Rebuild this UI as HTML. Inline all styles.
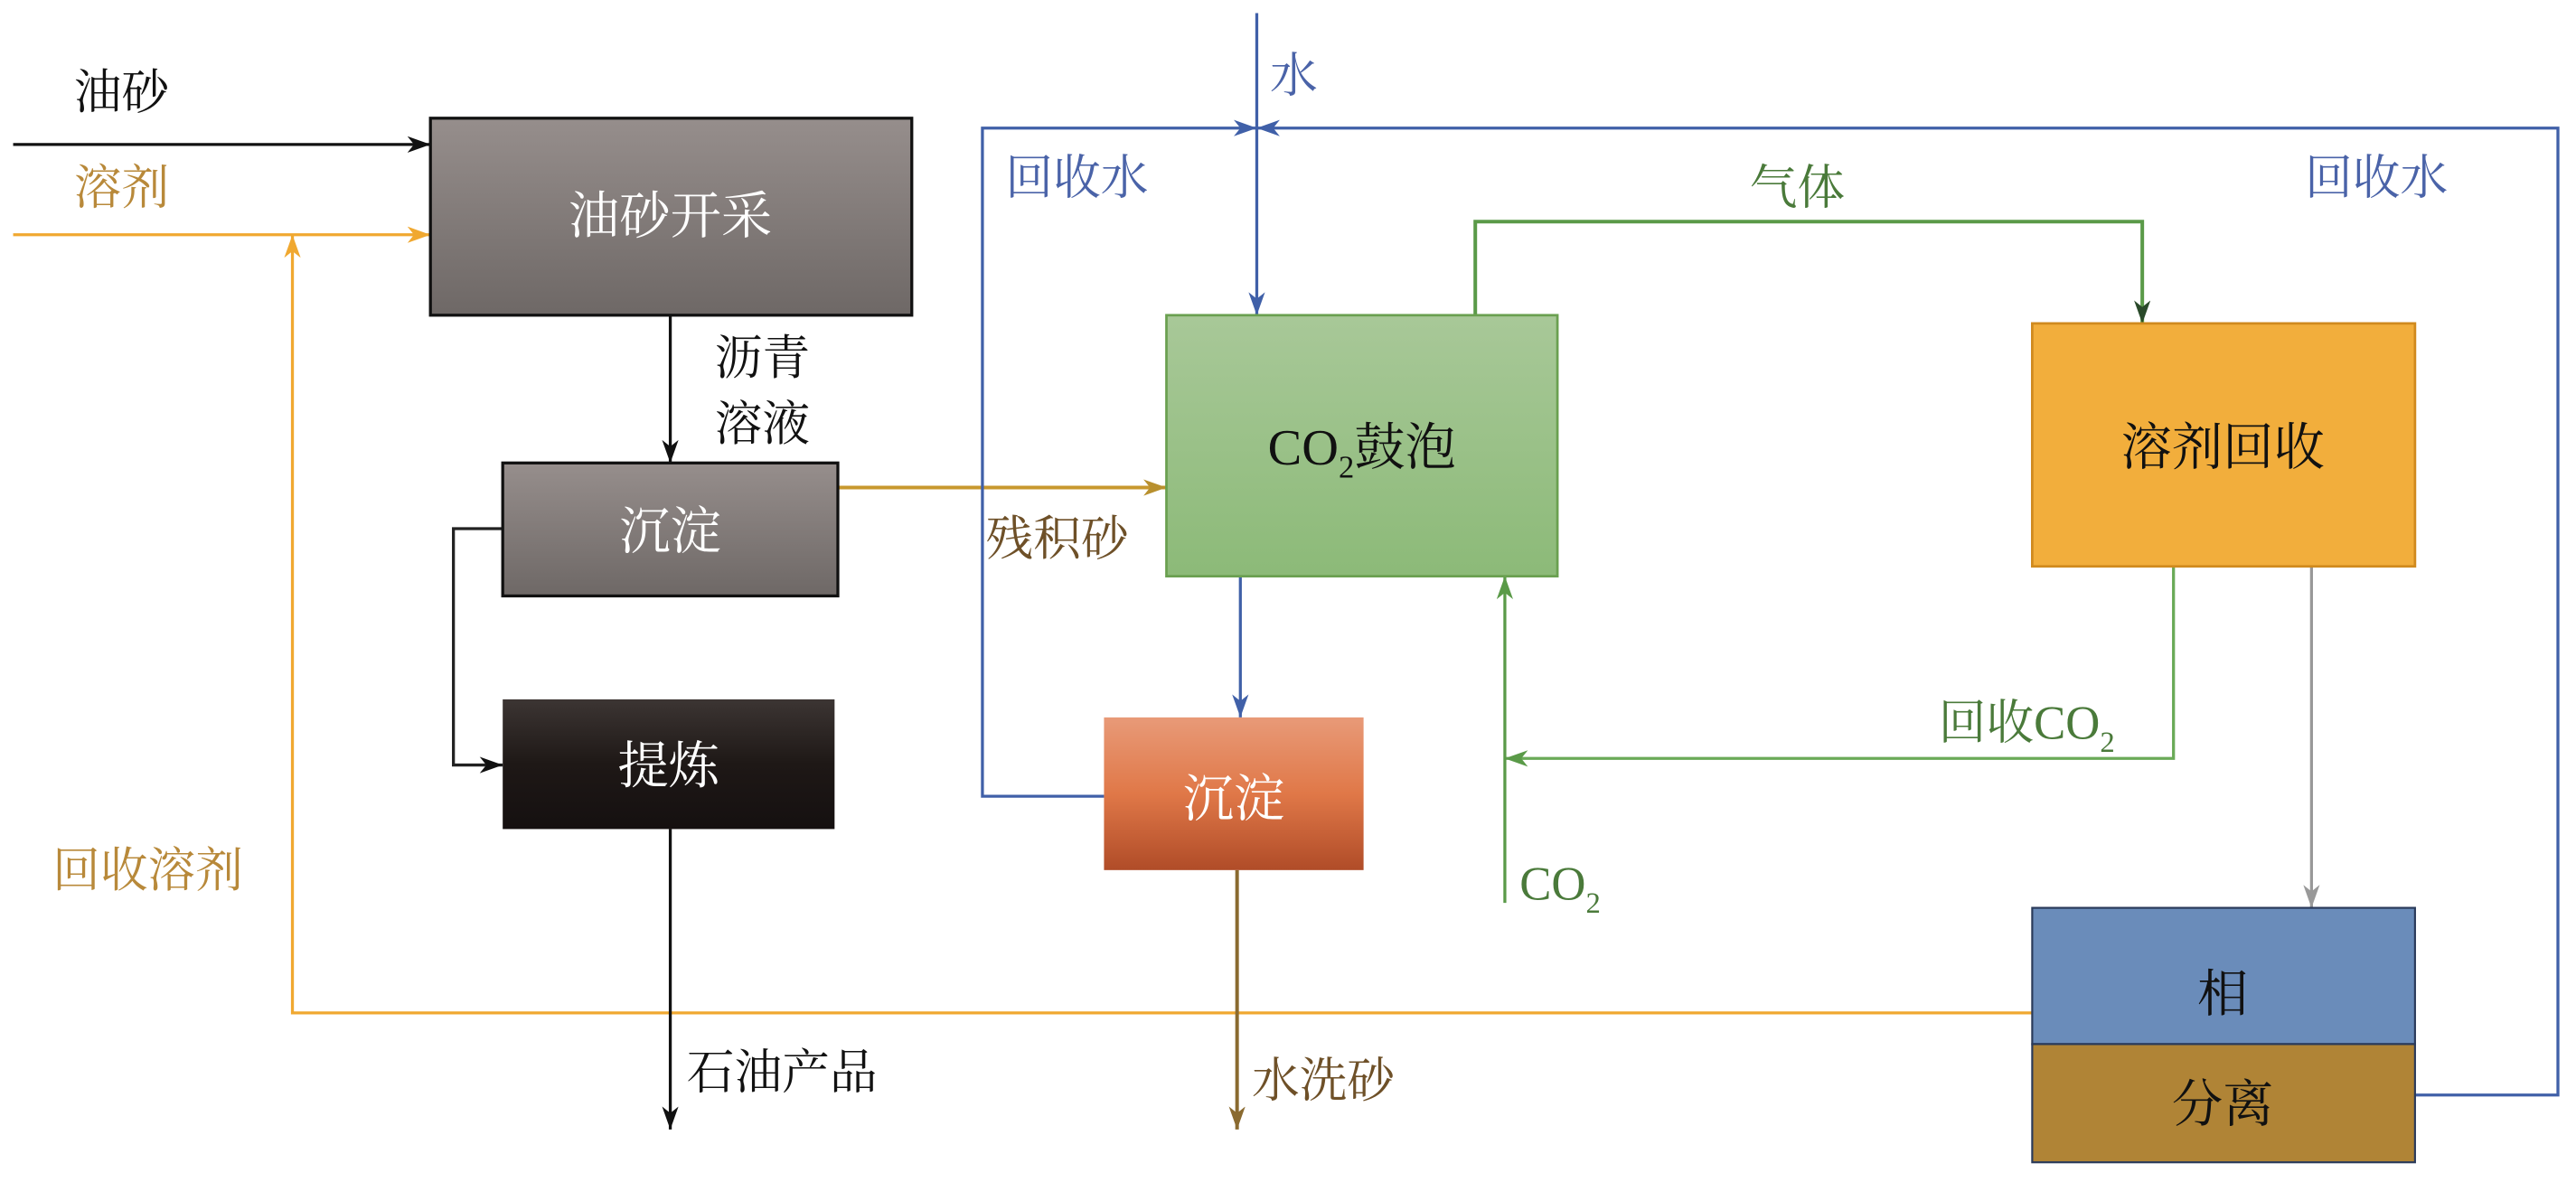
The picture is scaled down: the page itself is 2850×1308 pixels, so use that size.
<!DOCTYPE html>
<html><head><meta charset="utf-8"><style>html,body{margin:0;padding:0;background:#fff}svg{display:block}
text{font-family:"Liberation Serif","Noto Serif CJK SC","Noto Sans CJK SC",serif;}</style></head>
<body>
<svg width="2850" height="1308" viewBox="0 0 1568 720" preserveAspectRatio="none" xmlns="http://www.w3.org/2000/svg">
<defs>
<linearGradient id="g1" x1="0" y1="0" x2="0" y2="1"><stop offset="0" stop-color="#968e8c"/><stop offset="1" stop-color="#6e6866"/></linearGradient>
<linearGradient id="g2" x1="0" y1="0" x2="0" y2="1"><stop offset="0" stop-color="#3c3533"/><stop offset="0.5" stop-color="#1e1816"/><stop offset="1" stop-color="#151010"/></linearGradient>
<linearGradient id="g3" x1="0" y1="0" x2="0" y2="1"><stop offset="0" stop-color="#a8c898"/><stop offset="1" stop-color="#8cba78"/></linearGradient>
<linearGradient id="g4" x1="0" y1="0" x2="0" y2="1"><stop offset="0" stop-color="#e89a78"/><stop offset="0.5" stop-color="#e07848"/><stop offset="1" stop-color="#b04c28"/></linearGradient>
<marker id="ak" markerWidth="14" markerHeight="10" refX="14" refY="5" orient="auto" markerUnits="userSpaceOnUse"><path d="M0,0 L14,5 L0,10 L4,5z" fill="#111"/></marker>
<marker id="ao" markerWidth="14" markerHeight="10" refX="14" refY="5" orient="auto" markerUnits="userSpaceOnUse"><path d="M0,0 L14,5 L0,10 L4,5z" fill="#f0a830"/></marker>
<marker id="ab" markerWidth="14" markerHeight="10" refX="14" refY="5" orient="auto" markerUnits="userSpaceOnUse"><path d="M0,0 L14,5 L0,10 L4,5z" fill="#4060a8"/></marker>
<marker id="ag" markerWidth="14" markerHeight="10" refX="14" refY="5" orient="auto" markerUnits="userSpaceOnUse"><path d="M0,0 L14,5 L0,10 L4,5z" fill="#5a9a48"/></marker>
<marker id="adg" markerWidth="14" markerHeight="10" refX="14" refY="5" orient="auto" markerUnits="userSpaceOnUse"><path d="M0,0 L14,5 L0,10 L4,5z" fill="#2a4a2a"/></marker>
<marker id="ay" markerWidth="14" markerHeight="10" refX="14" refY="5" orient="auto" markerUnits="userSpaceOnUse"><path d="M0,0 L14,5 L0,10 L4,5z" fill="#b8902e"/></marker>
<marker id="abr" markerWidth="14" markerHeight="10" refX="14" refY="5" orient="auto" markerUnits="userSpaceOnUse"><path d="M0,0 L14,5 L0,10 L4,5z" fill="#8a6a30"/></marker>
<marker id="agr" markerWidth="14" markerHeight="10" refX="14" refY="5" orient="auto" markerUnits="userSpaceOnUse"><path d="M0,0 L14,5 L0,10 L4,5z" fill="#999"/></marker>
</defs>
<g fill="none" stroke-width="1.8">
<line x1="8" y1="88" x2="262" y2="88" stroke="#111" marker-end="url(#ak)"/>
<line x1="8" y1="143" x2="262" y2="143" stroke="#f0a830" marker-end="url(#ao)"/>
<polyline points="1237,617 178,617 178,143" stroke="#f0a830" marker-end="url(#ao)"/>
<line x1="408" y1="192" x2="408" y2="282" stroke="#111" marker-end="url(#ak)"/>
<polyline points="306,322 276,322 276,466 306,466" stroke="#222" marker-end="url(#ak)"/>
<line x1="408" y1="505" x2="408" y2="688" stroke="#111" marker-end="url(#ak)"/>
<line x1="510" y1="297" x2="710" y2="297" stroke="#c8982e" stroke-width="2.2" marker-end="url(#ay)"/>
<polyline points="672,485 598,485 598,78 765,78" stroke="#4060a8" marker-end="url(#ab)"/>
<polyline points="1470,667 1557,667 1557,78 765,78" stroke="#4060a8" marker-end="url(#ab)"/>
<line x1="765" y1="8" x2="765" y2="192" stroke="#4060a8" marker-end="url(#ab)"/>
<line x1="755" y1="351" x2="755" y2="437" stroke="#4060a8" marker-end="url(#ab)"/>
<polyline points="898,192 898,135 1304,135 1304,197" stroke="#5a9a48" stroke-width="2.2" marker-end="url(#adg)"/>
<polyline points="1323,345 1323,462 916,462" stroke="#6aaa58" marker-end="url(#ag)"/>
<line x1="916" y1="550" x2="916" y2="351" stroke="#5a9a48" marker-end="url(#ag)"/>
<line x1="753" y1="530" x2="753" y2="688" stroke="#8a6a30" stroke-width="2.2" marker-end="url(#abr)"/>
<line x1="1407" y1="345" x2="1407" y2="553" stroke="#999" marker-end="url(#agr)"/>
</g>
<rect x="262" y="72" width="293" height="120" fill="url(#g1)" stroke="#111" stroke-width="1.8"/>
<rect x="306" y="282" width="204" height="81" fill="url(#g1)" stroke="#111" stroke-width="1.8"/>
<rect x="306" y="426" width="202" height="79" fill="url(#g2)"/>
<rect x="710" y="192" width="238" height="159" fill="url(#g3)" stroke="#6aa050" stroke-width="1.5"/>
<rect x="1237" y="197" width="233" height="148" fill="#f2ae3c" stroke="#d08a1e" stroke-width="1.5"/>
<rect x="672" y="437" width="158" height="93" fill="url(#g4)"/>
<rect x="1237" y="553" width="233" height="83" fill="#6a8cba" stroke="#2a3a5a" stroke-width="1.2"/>
<rect x="1237" y="636" width="233" height="72" fill="#b08436" stroke="#2a3a5a" stroke-width="1.2"/>
<g font-size="29">
<text x="45" y="66" fill="#111">油砂</text>
<text x="45" y="124" fill="#b8893a">溶剂</text>
<text x="408" y="142" fill="#fff" text-anchor="middle" font-size="31">油砂开采</text>
<text x="435" y="228" fill="#111">沥青</text>
<text x="435" y="268" fill="#111">溶液</text>
<text x="408" y="334" fill="#fff" text-anchor="middle" font-size="31">沉淀</text>
<text x="407" y="477" fill="#fff" text-anchor="middle" font-size="31">提炼</text>
<text x="418" y="663" fill="#111">石油产品</text>
<text x="600" y="338" fill="#6e5028">残积砂</text>
<text x="773" y="56" fill="#4a63a8">水</text>
<text x="612" y="118" fill="#4a63a8">回收水</text>
<text x="1403" y="118" fill="#4a63a8">回收水</text>
<text x="1065" y="124" fill="#4a7a3a">气体</text>
<text x="829" y="283" fill="#111" text-anchor="middle" font-size="31">CO<tspan font-size="19" dy="8">2</tspan><tspan dy="-8">鼓泡</tspan></text>
<text x="1353" y="283" fill="#111" text-anchor="middle" font-size="31">溶剂回收</text>
<text x="1180" y="450" fill="#4a7a3a">回收CO<tspan font-size="18" dy="8">2</tspan></text>
<text x="925" y="548" fill="#4a7a3a">CO<tspan font-size="18" dy="8">2</tspan></text>
<text x="751" y="497" fill="#fff" text-anchor="middle" font-size="31">沉淀</text>
<text x="762" y="668" fill="#6e5028">水洗砂</text>
<text x="1353" y="616" fill="#111" text-anchor="middle" font-size="31">相</text>
<text x="1353" y="683" fill="#111" text-anchor="middle" font-size="31">分离</text>
<text x="32" y="540" fill="#b8893a">回收溶剂</text>
</g>
</svg>
</body></html>
